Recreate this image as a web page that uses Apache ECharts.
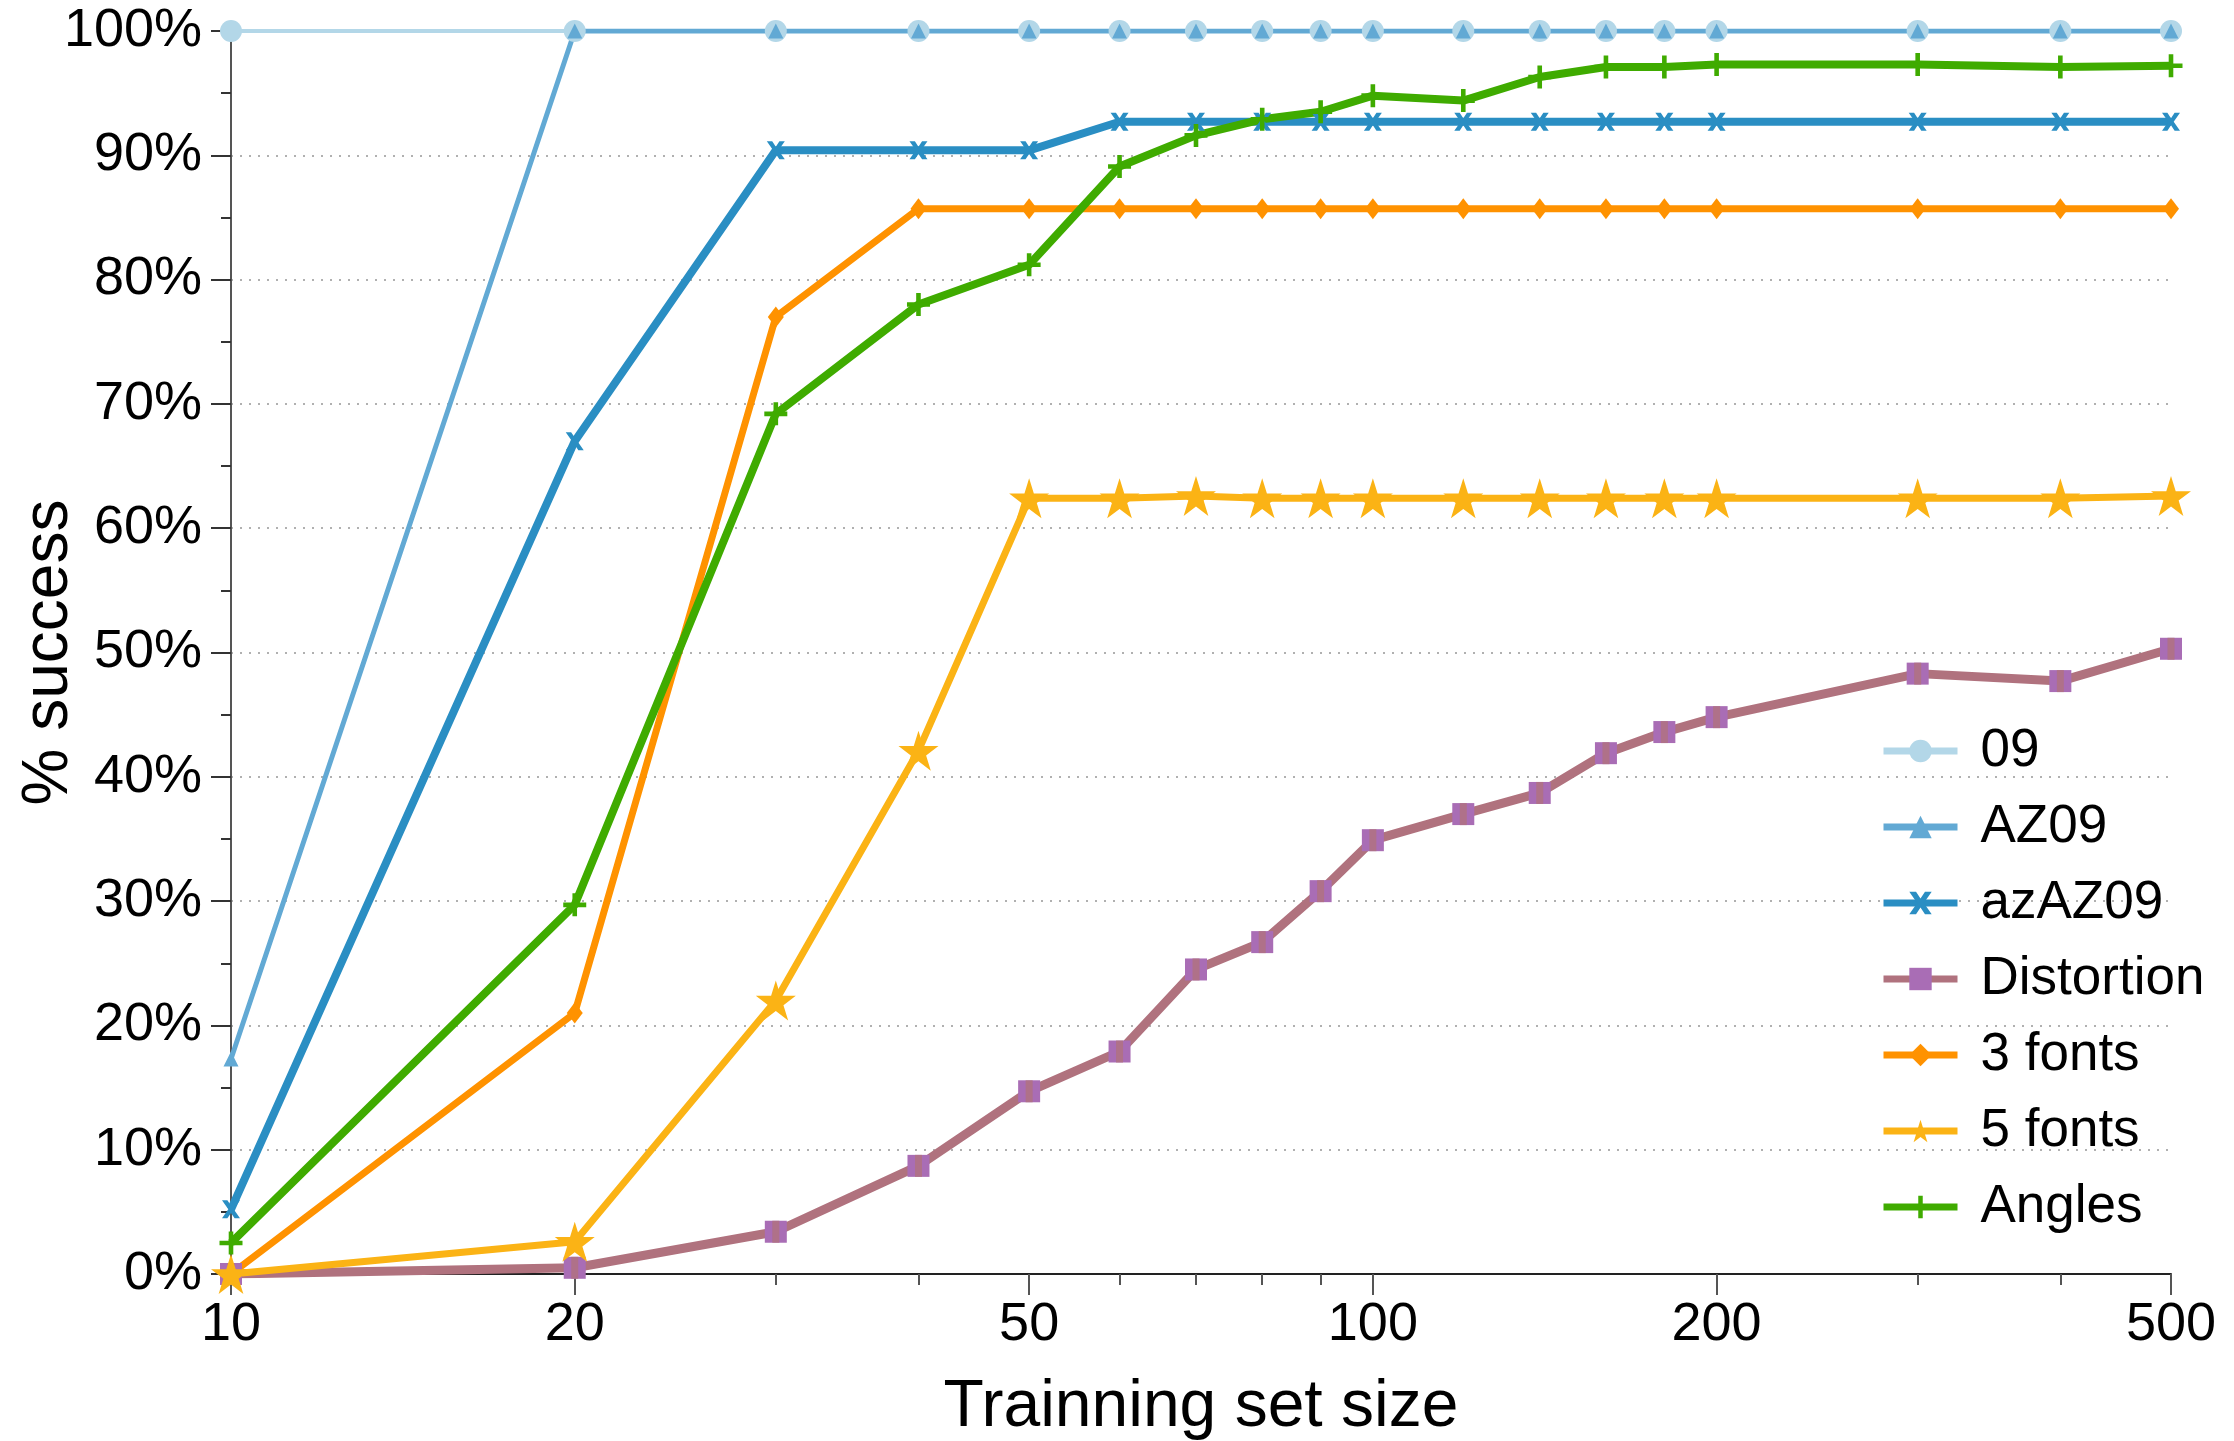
<!DOCTYPE html>
<html>
<head>
<meta charset="utf-8">
<script src="https://cdn.jsdelivr.net/npm/echarts@6/dist/echarts.min.js"></script>
<style>
    html, body { margin: 0; padding: 0; background: #fff; }
    #cn { width: 2234px; height: 1441px; }
</style>
</head>
<body>
<div id="cn"></div>
<script>
'use strict';

// training set sizes (x, log scale)
const sizes = [10, 20, 30, 40, 50, 60, 70, 80, 90, 100, 120, 140, 160, 180, 200, 300, 400, 500];
const majorTicks = [10, 20, 50, 100, 200, 500];
const minorTicks = [30, 40, 60, 70, 80, 90, 300, 400];

// % success per series
const s09 = [100, 100, 100, 100, 100, 100, 100, 100, 100, 100, 100, 100, 100, 100, 100, 100, 100, 100];
const sAZ09 = [17.3, 100, 100, 100, 100, 100, 100, 100, 100, 100, 100, 100, 100, 100, 100, 100, 100, 100];
const sazAZ09 = [5.2, 67.0, 90.4, 90.4, 90.4, 92.7, 92.7, 92.7, 92.7, 92.7, 92.7, 92.7, 92.7, 92.7, 92.7, 92.7, 92.7, 92.7];
const sDistortion = [0, 0.5, 3.4, 8.7, 14.7, 17.9, 24.5, 26.7, 30.8, 34.9, 37.0, 38.7, 41.9, 43.6, 44.8, 48.3, 47.7, 50.3];
const s3fonts = [0, 21.0, 77.0, 85.7, 85.7, 85.7, 85.7, 85.7, 85.7, 85.7, 85.7, 85.7, 85.7, 85.7, 85.7, 85.7, 85.7, 85.7];
const s5fonts = [0, 2.6, 22.0, 42.1, 62.4, 62.4, 62.6, 62.4, 62.4, 62.4, 62.4, 62.4, 62.4, 62.4, 62.4, 62.4, 62.4, 62.6];
const sAngles = [2.5, 29.7, 69.2, 78.0, 81.2, 89.1, 91.6, 92.9, 93.5, 94.8, 94.4, 96.3, 97.1, 97.1, 97.3, 97.3, 97.1, 97.2];

const FONT = '"Liberation Sans", Arial, sans-serif';
const lg = v => Math.log10(v);
const toPoints = vals => sizes.map((s, i) => [lg(s), vals[i]]);

const SYM_X = 'path://M0,0 L3,0 L5,3 L7,0 L10,0 L6.5,5 L10,10 L7,10 L5,7 L3,10 L0,10 L3.5,5 Z';
const SYM_PLUS = 'path://M4,0 H6 V4 H10 V6 H6 V10 H4 V6 H0 V4 H4 Z';
const SYM_STAR = 'path://M50,0 L61.2,34.5 L97.6,34.5 L68.2,55.9 L79.4,90.5 L50,69.1 L20.6,90.5 L31.8,55.9 L2.4,34.5 L38.8,34.5 Z';

const mkSeries = (name, vals, color, width, symbol, size, symColor) => ({
    name: name,
    type: 'line',
    xAxisIndex: 0,
    data: toPoints(vals),
    symbol: symbol,
    symbolSize: size,
    showAllSymbol: true,
    animation: false,
    lineStyle: { color: color, width: width },
    itemStyle: { color: symColor || color, opacity: 1 }
});

const chart = echarts.init(document.getElementById('cn'));

const option = {
    backgroundColor: '#fff',
    animation: false,
    grid: { left: 231, right: 63, top: 31, bottom: 167, containLabel: false, outerBoundsMode: 'none' },
    legend: {
        orient: 'vertical',
        left: 1875,
        top: 718,
        itemWidth: 74,
        itemHeight: 28,
        itemGap: 20,
        lineStyle: { width: 7 },
        textStyle: { fontFamily: FONT, fontSize: 53, lineHeight: 56, color: '#000', padding: [0, 0, 0, 18] },
        data: ['09', 'AZ09', 'azAZ09', 'Distortion', '3 fonts', '5 fonts', 'Angles']
    },
    xAxis: [{
        type: 'value',
        position: 'bottom',
        min: lg(10),
        max: lg(500),
        name: 'Trainning set size',
        nameLocation: 'middle',
        nameGap: 101,
        nameTextStyle: { fontFamily: FONT, fontSize: 66, color: '#000' },
        axisLine: { show: true, lineStyle: { color: '#222', width: 2 } },
        axisTick: { show: true, length: 21, customValues: majorTicks.map(lg), lineStyle: { color: '#555', width: 2 } },
        axisLabel: {
            customValues: majorTicks.map(lg),
            formatter: v => String(Math.round(Math.pow(10, v))),
            margin: 24,
            fontFamily: FONT,
            fontSize: 54,
            color: '#000'
        },
        splitLine: { show: false }
    }, {
        type: 'value',
        position: 'bottom',
        min: lg(10),
        max: lg(500),
        axisLine: { show: false },
        axisTick: { show: true, length: 11, customValues: minorTicks.map(lg), lineStyle: { color: '#555', width: 2 } },
        axisLabel: { show: false },
        splitLine: { show: false }
    }],
    yAxis: {
        type: 'value',
        min: 0,
        max: 100,
        interval: 10,
        name: '% success',
        nameLocation: 'middle',
        nameGap: 150,
        nameMoveOverlap: false,
        nameTextStyle: { fontFamily: FONT, fontSize: 64, color: '#000' },
        axisLine: { show: true, lineStyle: { color: '#555', width: 2 } },
        axisTick: { show: true, length: 20, lineStyle: { color: '#333', width: 2 } },
        minorTick: { show: true, splitNumber: 2, length: 10, lineStyle: { color: '#333', width: 2 } },
        axisLabel: {
            formatter: '{value}%',
            margin: 29,
            fontFamily: FONT,
            fontSize: 54,
            color: '#000'
        },
        splitLine: { show: true, lineStyle: { color: '#b0b0b0', width: 2, type: [2, 7] } }
    },
    series: [
        mkSeries('09', s09, '#b3d7e8', 4, 'circle', 22),
        mkSeries('AZ09', sAZ09, '#62a9d4', 5, 'triangle', 15),
        mkSeries('azAZ09', sazAZ09, '#2a8ec3', 8, SYM_X, 18),
        mkSeries('Distortion', sDistortion, '#b0727e', 9, 'rect', 22, '#a96db5'),
        // vertical stroke drawn over the Distortion squares
        {
            type: 'scatter',
            data: toPoints(sDistortion),
            symbol: 'rect',
            symbolSize: [7, 22],
            itemStyle: { color: '#b0727e' },
            silent: true,
            z: 3
        },
        mkSeries('3 fonts', s3fonts, '#ff9200', 7, 'diamond', [16, 21]),
        mkSeries('5 fonts', s5fonts, '#fbb315', 7, SYM_STAR, 40),
        mkSeries('Angles', sAngles, '#3fab00', 8, SYM_PLUS, 23)
    ]
};

chart.setOption(option);
</script>
</body>
</html>
